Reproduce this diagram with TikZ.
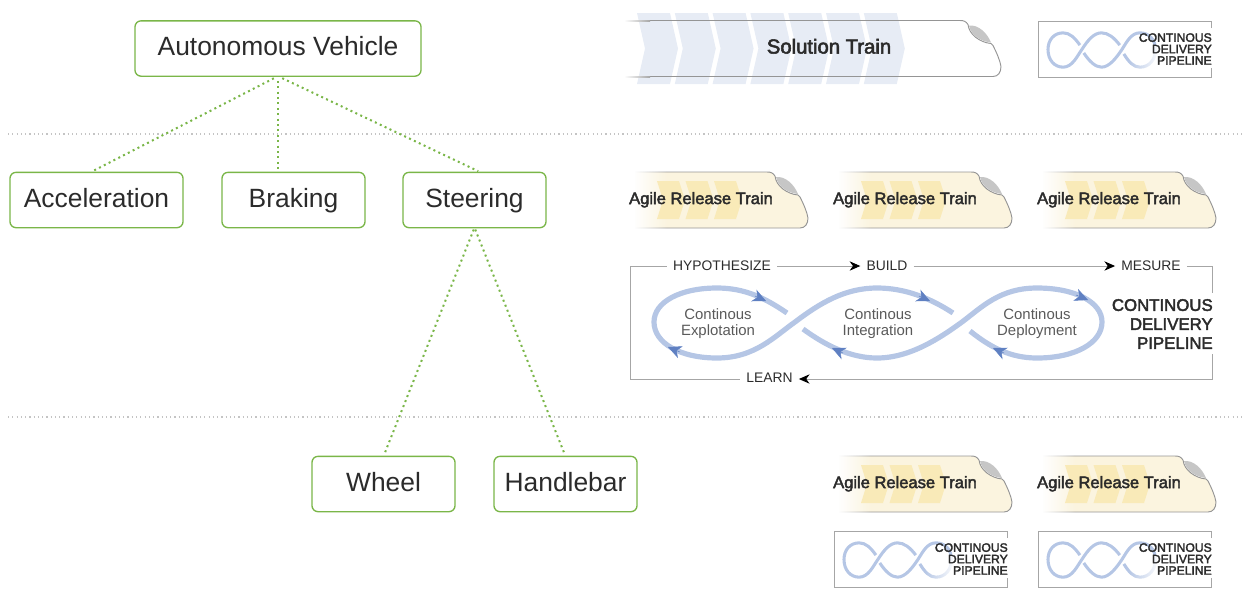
\documentclass[tikz,border=0pt]{standalone}
\usepackage{fontspec}
\setmainfont{Liberation Sans}
\newfontfamily\medfont[FakeBold=2.6]{Liberation Sans}
\usetikzlibrary{positioning}
\usetikzlibrary{arrows.meta}
\usetikzlibrary{fadings}
\definecolor{boxgreen}{HTML}{7AB648}
\definecolor{inktext}{HTML}{2B2B2B}
\definecolor{softtext}{HTML}{5A5A5A}
\definecolor{framegray}{HTML}{A6A6A6}
\definecolor{levelgray}{HTML}{C4C4C4}
\definecolor{leafgray}{HTML}{C6C6C6}
\definecolor{cream}{HTML}{FBF4DF}
\definecolor{chevyellow}{HTML}{F9EAB8}
\definecolor{chevblue}{HTML}{E7ECF5}
\definecolor{loopblue}{HTML}{B5C6E5}
\definecolor{headblue}{HTML}{5F80C2}
\newcommand{\noseoutline}[1]{(#1,0) -- (0,0) .. controls (4,0) and (6,1) .. (8,4) .. controls (9,14) and (20,22) .. (31,23) -- (33,25) .. controls (37,33) and (40,40) .. (41,46) .. controls (41,52) and (38,56) .. (33,56) -- (#1,56)}
\newcommand{\loopstrands}{(787,313) .. controls (765,298) and (745,288) .. (717,288) .. controls (680,288) and (654,302) .. (654,322) .. controls (654,343) and (680,358) .. (717,358) .. controls (755,358) and (775,336) .. (795,322) .. controls (820,303) and (845,288) .. (877,288) .. controls (905,288) and (930,298) .. (953,313)
  (970,331) .. controls (990,347) and (1010,358) .. (1037,358) .. controls (1075,358) and (1102,343) .. (1102,322) .. controls (1102,302) and (1075,288) .. (1037,288) .. controls (1000,288) and (982,307) .. (962,322) .. controls (940,338) and (910,358) .. (877,358) .. controls (850,358) and (825,345) .. (803,329)}
\tikzset{
  featurebox/.style={draw=boxgreen,line width=1pt,rounded corners=4.5pt,minimum height=41.5pt,text=inktext,font=\fontsize{19.8}{24}\selectfont,inner sep=0pt,outer sep=0pt,text height=15pt,text depth=3.8pt},
  dottedlink/.style={draw=boxgreen,line width=1.5pt,dash pattern=on 1.5pt off 2.55pt},
  levelline/.style={draw=levelgray,line width=.9pt,dash pattern=on .9pt off 2.3pt},
  trainline/.style={draw=framegray!90!black,line width=.7pt},
  trainlabel/.style={text=inktext,font=\medfont\fontsize{12.4}{15}\selectfont,inner sep=0pt,text height=9.5pt,text depth=2.7pt},
  framelabel/.style={text=inktext,font=\fontsize{10.4}{12}\selectfont,inner xsep=4.5pt,inner ysep=0pt},
  frameline/.style={draw=framegray,line width=.7pt},
  framearrow/.style={frameline,-{Stealth[length=8pt,width=7pt,inset=2.5pt,color=black]}},
  stagetext/.style={text=softtext,align=center,font=\fontsize{11.2}{12}\selectfont,inner sep=0pt},
  loophead/.style={draw=headblue,line width=.4pt,-{Stealth[length=10pt,width=9.5pt,inset=3pt,color=headblue]}},
  pics/trainnose/.style={code={
    \fill[leafgray] (9,5) .. controls (18,4) and (27,12) .. (31,22) .. controls (21,21) and (11,15) .. (9,5) -- cycle;
  }},
  pics/arttrain/.style={code={
    \fill[cream] \noseoutline{-132} -- cycle;
    \draw[trainline] \noseoutline{-132};
    \fill[white,path fading=east] (-133,-2) rectangle (-100,58);
    \foreach \dx in {0,28.5,57}
      \fill[chevyellow] (-110+\dx,9) -- ++(22,0) -- ++(6,19) -- ++(-6,19) -- ++(-22,0) -- ++(6,-19) -- cycle;
    \pic {trainnose};
    \node[trainlabel] (label) at (-66,27.5) {Agile Release Train};
  }},
  pics/cdpicon/.style={code={
    \draw[frameline] (173.5,7) -- (173.5,0) -- (0,0) -- (0,56) -- (173.5,56) -- (173.5,47);
    \begin{scope}[shift={(10,29)},xscale=.24,yscale=.49,shift={(-654,-323)}]
      \draw[loopblue,line width=2.3pt] \loopstrands;
    \end{scope}
    \fill[white,path fading=west] (90,24) rectangle (122,50);
    \node[anchor=east,align=right,text=inktext,inner sep=0pt,font=\medfont\fontsize{9.1}{8.6}\selectfont] (label) at (174,28) {CONTINOUS\\DELIVERY\\PIPELINE};
  }},
}
\begin{document}
\begin{tikzpicture}[x=.75pt,y=-.75pt]
\useasboundingbox (0,0) rectangle (1247,612);
% level separators
\coordinate (upper-a) at (8,134);
\coordinate (upper-b) at (1243,134);
\coordinate (lower-a) at (8,417);
\coordinate (lower-b) at (1243,417);
\draw[levelline] (upper-a) -- (upper-b);
\draw[levelline] (lower-a) -- (lower-b);
% feature tree
\node[featurebox,minimum width=214.5pt] (vehicle) at (278,48.5) {Autonomous Vehicle};
\node[featurebox,minimum width=129.75pt] (acceleration) at (96.5,200) {Acceleration};
\node[featurebox,minimum width=107.25pt,right=29.25pt of acceleration] (braking) {Braking};
\node[featurebox,minimum width=107.25pt,right=28.5pt of braking] (steering) {Steering};
\node[featurebox,minimum width=107.25pt] (wheel) at (383.5,484) {Wheel};
\node[featurebox,minimum width=107.25pt,right=29.25pt of wheel] (handlebar) {Handlebar};
\coordinate (acceleration-link) at (91,172);
\coordinate (braking-link) at (278,172);
\coordinate (steering-link) at (480,172);
\path[dottedlink,shorten <=3.5pt]
  (vehicle.south) edge[shorten >=1.5pt] (acceleration-link)
                  edge[shorten >=1.5pt] (braking-link)
                  edge[shorten >=1.5pt] (steering-link);
\path[dottedlink,shorten <=1.5pt,shorten >=2.5pt]
  (steering.south) edge (wheel.north)
                   edge (handlebar.north);
% solution train
\foreach \dx in {0,1,...,6}
  \fill[chevblue] (637+\dx*37.8,13) -- ++(33,0) -- ++(8,35.5) -- ++(-8,35.5) -- ++(-33,0) -- ++(8,-35.5) -- cycle;
\begin{scope}[shift={(960,20.5)}]
  \draw[trainline] \noseoutline{-310};
  \shade[left color=white,right color=framegray] (-336,-.5) rectangle (-310,.5);
  \shade[left color=white,right color=framegray] (-336,55.5) rectangle (-310,56.5);
  \pic {trainnose};
\end{scope}
\node[trainlabel,font=\medfont\fontsize{15.2}{16}\selectfont] (solution) at (829,49) {Solution Train};
% agile release trains
\pic (art-a) at (767,172) {arttrain};
\pic (art-b) at (971,172) {arttrain};
\pic (art-c) at (1175,172) {arttrain};
\pic (art-d) at (971,456) {arttrain};
\pic (art-e) at (1175,456) {arttrain};
% pipeline icons
\pic (icon-a) at (1038,21) {cdpicon};
\pic (icon-b) at (834,531) {cdpicon};
\pic (icon-c) at (1038,531) {cdpicon};
% pipeline
\draw[loopblue,line width=3.9pt] \loopstrands;
\draw[loophead] (755,296) -- (766,301);
\draw[loophead] (680,352) -- (668,347);
\draw[loophead] (919,296) -- (930,301);
\draw[loophead] (843,353) -- (832,348);
\draw[loophead] (1076,295) -- (1088,300);
\draw[loophead] (1004,353) -- (993,348);
\node[stagetext] (exploitation) at (718,323.5) {Continous\\Explotation};
\node[stagetext] (integration) at (878,323.5) {Continous\\Integration};
\node[stagetext] (deployment) at (1037,323.5) {Continous\\Deployment};
\node[framelabel] (hypothesize) at (722,266) {HYPOTHESIZE};
\node[framelabel] (build) at (887,266) {BUILD};
\node[framelabel] (mesure) at (1151,266) {MESURE};
\node[framelabel] (learn) at (769.5,378) {LEARN};
\node[anchor=east,align=right,text=inktext,inner sep=0pt,font=\medfont\fontsize{12.6}{14.25}\selectfont] (pipeline) at (1213,324) {CONTINOUS\\DELIVERY\\PIPELINE};
\coordinate (corner-tl) at (630,266);
\coordinate (corner-bl) at (630,379);
\coordinate (corner-tr) at (1212,266);
\coordinate (corner-br) at (1212,379);
\coordinate (pipeline-top) at (1212,293);
\coordinate (pipeline-bottom) at (1212,354);
\draw[frameline] (hypothesize) -- (corner-tl) -- (corner-bl) -- (learn.west |- corner-bl);
\draw[framearrow] (hypothesize) -- (build);
\draw[framearrow] (build) -- (mesure);
\draw[frameline] (mesure) -- (corner-tr) -- (pipeline-top);
\draw[framearrow] (pipeline-bottom) -- (corner-br) -- (learn.east |- corner-br);
\end{tikzpicture}
\end{document}
